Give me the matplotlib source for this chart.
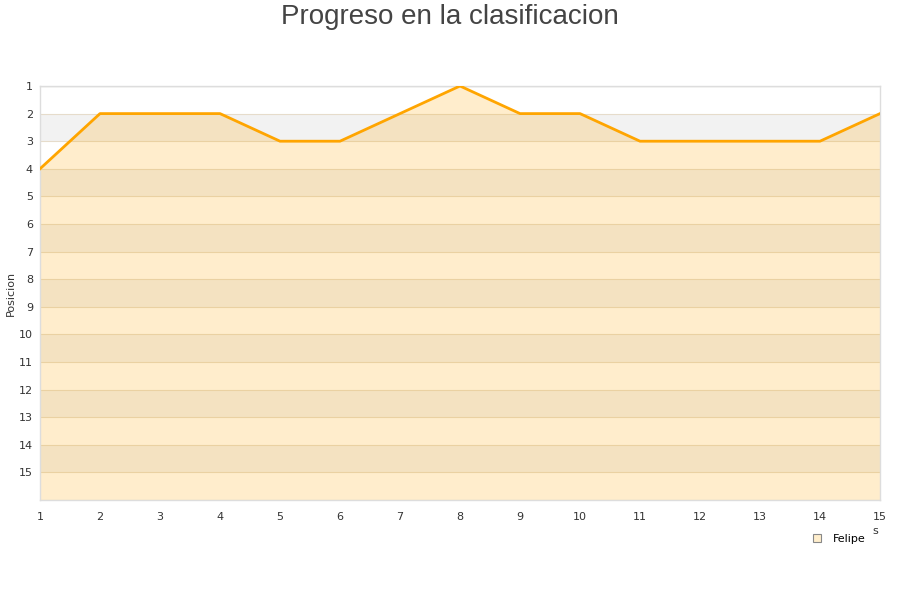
import numpy as np
import matplotlib.pyplot as plt

jornadas = np.arange(1, 16)                                        # eje X
posicion = np.array([4, 2, 2, 2, 3, 3, 2, 1, 2, 2, 3, 3, 3, 3, 2])  # posicion de Felipe
jugador = "Felipe"

fig = plt.figure(figsize=(9, 6), dpi=100)
ax = fig.add_axes([40 / 900, 100 / 600, 840 / 900, 414 / 600])

# bandas alternas de fondo
for k in range(2, 16, 2):
    ax.axhspan(k, k + 1, color="#f2f2f2", zorder=0, lw=0)
for k in range(1, 17):
    ax.axhline(k, color="#e6dccb", lw=0.8, zorder=1)
ax.axhline(1, color="#dddddd", lw=1, zorder=1)

ax.fill_between(jornadas, posicion, 16, color="orange", alpha=0.2, lw=0, zorder=2)
ax.plot(jornadas, posicion, color="#ffa500", lw=2, zorder=3)

ax.set_xlim(1, 15)
ax.set_ylim(16, 1)
ax.set_xticks(jornadas)
ax.set_yticks(np.arange(1, 16))
ax.tick_params(length=0, labelsize=8, colors="#333333")
ax.tick_params(axis="y", pad=5)
ax.tick_params(axis="x", pad=9)
for s in ax.spines.values():
    s.set_color("#dddddd")
    s.set_linewidth(1)

ax.set_ylabel("Posicion", fontsize=8, color="#333333", labelpad=2)
fig.text(875 / 900, 1 - 531 / 600, "s", fontsize=8, color="#333333", ha="center", va="center")
fig.text(0.5, 1 - 17 / 600, "Progreso en la clasificacion", fontsize=20, color="#444444",
         ha="center", va="center", family="Liberation Sans")

ax.legend(handles=[plt.Line2D([], [], marker="s", ls="", markersize=6,
                              markerfacecolor="#ffeecc", markeredgecolor="#888888",
                              markeredgewidth=0.8, label=jugador)],
          loc="center", bbox_to_anchor=(836 / 900, 1 - 539 / 600), bbox_transform=fig.transFigure,
          frameon=False, fontsize=8, handletextpad=0.4, borderpad=0)

fig.savefig("out.png", dpi=100)
